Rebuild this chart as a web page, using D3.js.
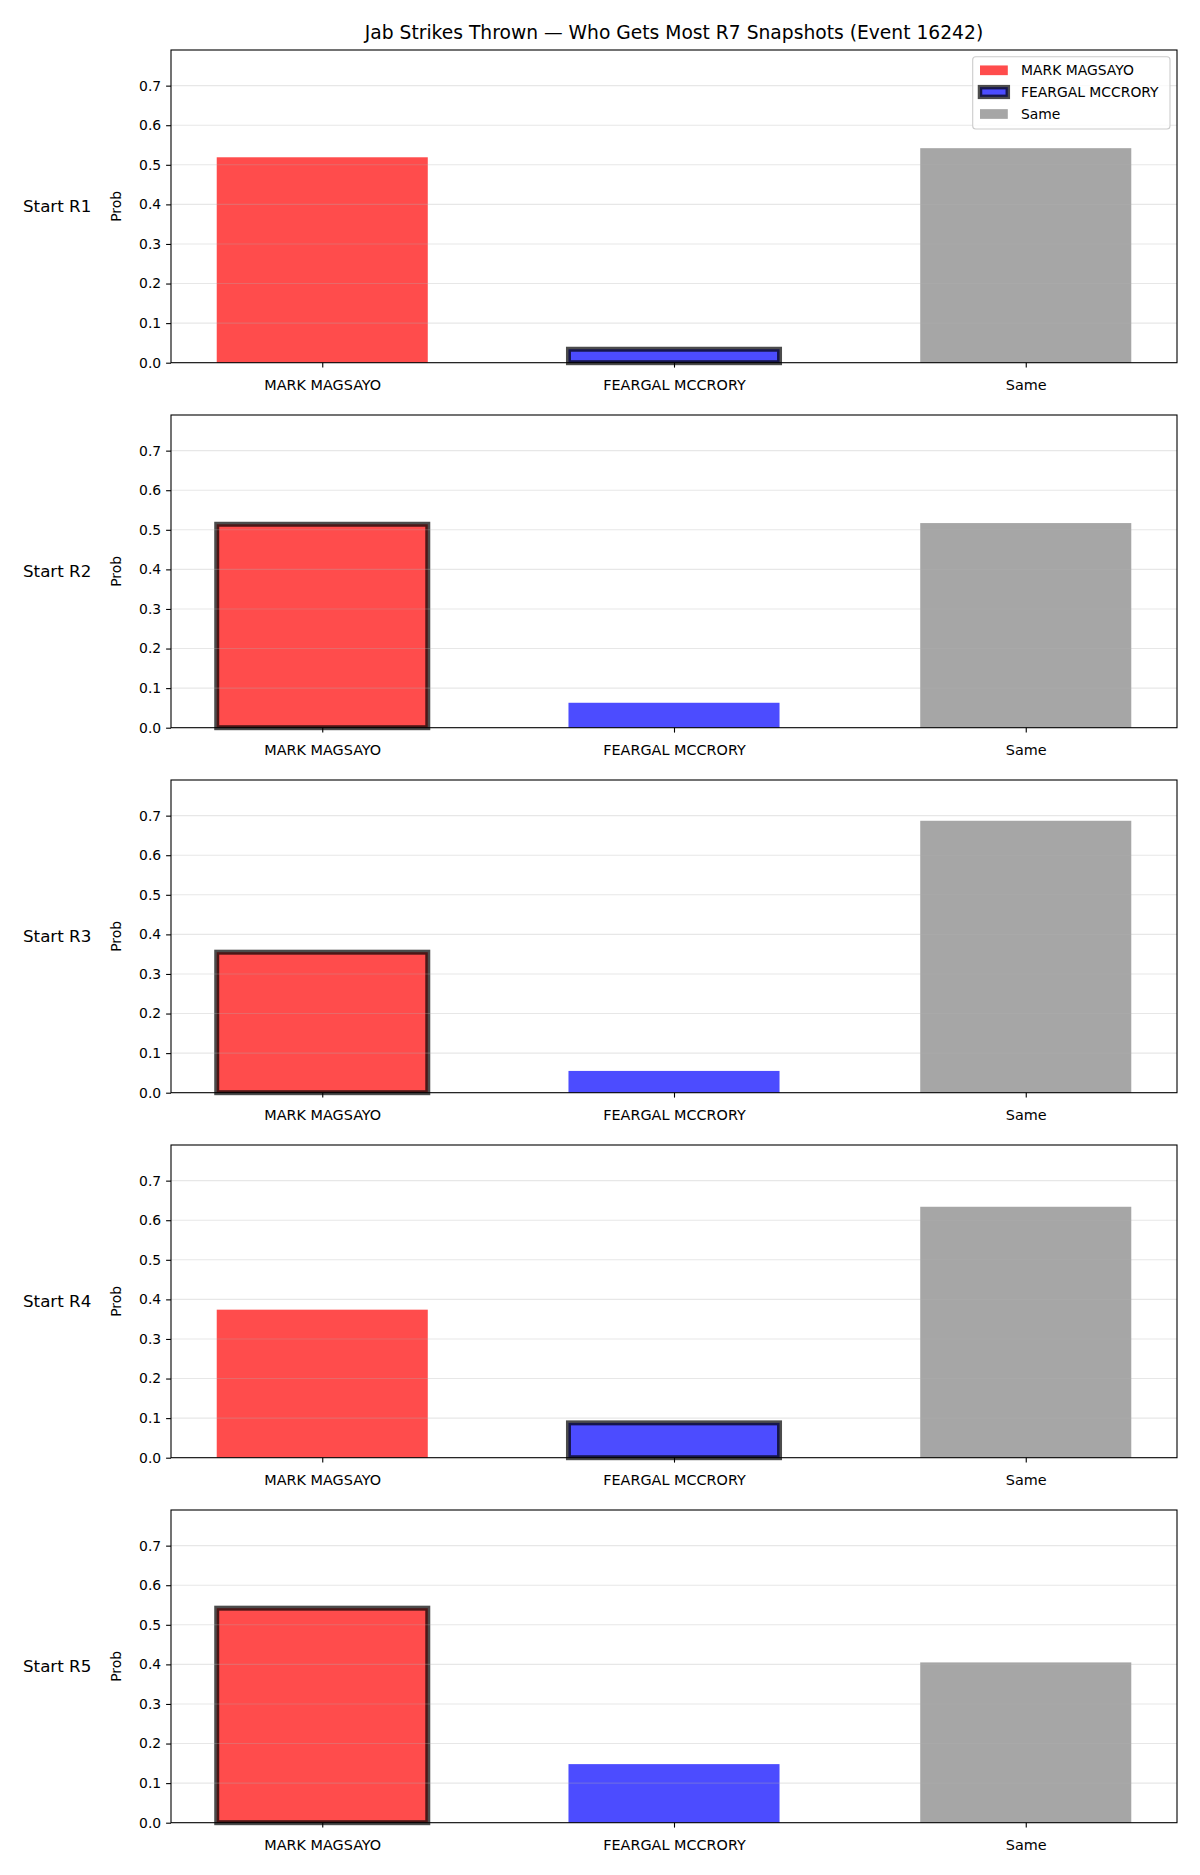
<!DOCTYPE html>
<html><head><meta charset="utf-8">
<script src="https://cdn.jsdelivr.net/npm/d3@7"></script>
<style>body{margin:0;background:#fff}svg{display:block;font-family:"DejaVu Sans",sans-serif}</style>
</head><body><svg id="c" width="1200" height="1875"></svg>
<script>
const title = "Jab Strikes Thrown — Who Gets Most R7 Snapshots (Event 16242)";
const categories = ["MARK MAGSAYO", "FEARGAL MCCRORY", "Same"];
const rounds = ["Start R1", "Start R2", "Start R3", "Start R4", "Start R5"];
const magsayo = [0.519, 0.514, 0.355, 0.374, 0.542];
const mccrory = [0.034, 0.063, 0.055, 0.088, 0.148];
const same = [0.542, 0.517, 0.687, 0.634, 0.405];
const highlight = ["FEARGAL MCCRORY", "MARK MAGSAYO", "MARK MAGSAYO", "FEARGAL MCCRORY", "MARK MAGSAYO"];
const colors = ["red", "blue", "gray"];
const yTicks = [0, 0.1, 0.2, 0.3, 0.4, 0.5, 0.6, 0.7];

const svg = d3.select("#c");
const L = 171, R = 1177, top0 = 50, H = 312.7, step = 365;
const yMax = d3.max([...magsayo, ...mccrory, ...same]) * 1.15;
const x = d3.scaleLinear().domain([-0.43, 2.43]).range([L, R]);
const bw = 0.6;
const EW = 5;

svg.append("text").attr("x", (L + R) / 2).attr("y", 38.5).attr("text-anchor", "middle")
  .attr("font-size", 18.7).text(title);

rounds.forEach((rname, i) => {
  const t = top0 + i * step, b = t + H;
  const y = d3.scaleLinear().domain([0, yMax]).range([b, t]);
  const g = svg.append("g");
  const vals = [magsayo[i], mccrory[i], same[i]];
  g.selectAll("rect.bar").data(vals).join("rect")
    .attr("x", (d, j) => x(j - bw / 2)).attr("width", x(bw) - x(0))
    .attr("y", d => y(d)).attr("height", d => y(0) - y(d))
    .attr("fill", (d, j) => colors[j]).attr("fill-opacity", 0.7)
    .attr("stroke", (d, j) => categories[j] === highlight[i] ? "black" : "none")
    .attr("stroke-opacity", 0.7).attr("stroke-width", EW);
  g.selectAll("line.grid").data(yTicks.slice(1)).join("line")
    .attr("x1", L).attr("x2", R).attr("y1", d => y(d)).attr("y2", d => y(d))
    .attr("stroke", "#b0b0b0").attr("stroke-opacity", 0.3).attr("stroke-width", 1.1);
  const ya = g.append("g").attr("transform", `translate(${L},0)`)
    .call(d3.axisLeft(y).tickValues(yTicks).tickFormat(d3.format(".1f")).tickSize(4.9).tickPadding(4.9));
  const xa = g.append("g").attr("transform", `translate(0,${b})`)
    .call(d3.axisBottom(x).tickValues([0, 1, 2]).tickFormat(j => categories[j]).tickSize(4.9).tickPadding(12.5));
  [ya, xa].forEach(a => {
    a.select(".domain").remove();
    a.selectAll("line").attr("stroke", "#000").attr("stroke-width", 1.1);
    a.selectAll("text").attr("fill", "#000").attr("font-family", "DejaVu Sans");
  });
  ya.selectAll("text").attr("font-size", 13.9);
  xa.selectAll("text").attr("font-size", 14.4);
  g.append("rect").attr("x", L).attr("y", t).attr("width", R - L).attr("height", H)
    .attr("fill", "none").attr("stroke", "#000").attr("stroke-width", 1.1);
  g.append("text").attr("transform", `translate(116,${(t + b) / 2}) rotate(-90)`)
    .attr("text-anchor", "middle").attr("dominant-baseline", "central").attr("font-size", 13.9).text("Prob");
  g.append("text").attr("x", 23).attr("y", (t + b) / 2).attr("dominant-baseline", "central")
    .attr("font-size", 16.7).text(rname);

  if (i === 0) {
    const lg = svg.append("g");
    lg.append("rect").attr("x", 972.7).attr("y", 56.7).attr("width", 197.3).attr("height", 72.3)
      .attr("rx", 3).attr("fill", "#fff").attr("fill-opacity", 0.8).attr("stroke", "#cccccc").attr("stroke-width", 1.1);
    const rows = [70.3, 92, 114];
    categories.forEach((c, j) => {
      lg.append("rect").attr("x", 980).attr("y", rows[j] - 4.85).attr("width", 27.8).attr("height", 9.7)
        .attr("fill", colors[j]).attr("fill-opacity", 0.7)
        .attr("stroke", j === 1 ? "black" : "none").attr("stroke-opacity", 0.7).attr("stroke-width", 4.5);
      lg.append("text").attr("x", 1021).attr("y", rows[j]).attr("dominant-baseline", "central")
        .attr("font-size", 13.9).text(c);
    });
  }
});
</script></body></html>
